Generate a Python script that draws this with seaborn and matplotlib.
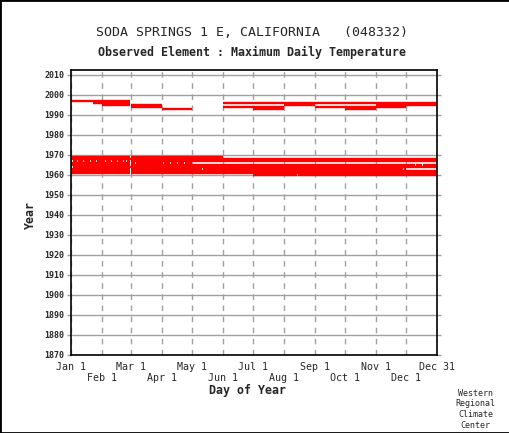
import numpy as np
import pandas as pd
import matplotlib
matplotlib.use('Agg')
import matplotlib.pyplot as plt
from matplotlib.patches import Rectangle
import seaborn as sns

# periods of record (year, first day, last day)
period_year = [1960, 1961, 1962, 1963, 1964, 1965, 1966, 1967, 1968, 1969,
               1993, 1993, 1993, 1994, 1994, 1994, 1995, 1995, 1995,
               1996, 1996, 1997]
period_start = ['07-01', '01-01', '01-01', '01-01', '01-01', '01-01', '01-01', '01-01', '01-01', '01-01',
                '04-01', '07-01', '10-01', '03-01', '06-01', '09-01', '02-01', '08-01', '11-01',
                '01-23', '06-01', '01-01']
period_end = ['12-31', '12-31', '12-31', '11-30', '12-31', '12-31', '04-30', '12-31', '12-31', '05-31',
              '04-30', '07-31', '10-31', '03-31', '07-31', '11-30', '03-31', '08-31', '12-31',
              '02-28', '12-31', '02-28']

# single missing days inside the periods
missing_year = [1960, 1963, 1963, 1964, 1965, 1965,
                1966, 1966, 1966, 1966, 1966,
                1967, 1967, 1967, 1967, 1967, 1967, 1967, 1967, 1967, 1967]
missing_day = ['08-14', '05-11', '11-28', '01-02', '12-10', '12-17',
               '03-05', '04-02', '04-09', '04-16', '04-23',
               '01-02', '01-07', '01-13', '01-20', '01-26', '02-04', '02-10', '02-16', '02-22', '02-25']

year_ticks = list(range(1870, 2011, 10))
major_labels = ['Jan 1', 'Mar 1', 'May 1', 'Jul 1', 'Sep 1', 'Nov 1', 'Dec 31']
minor_labels = ['Feb 1', 'Apr 1', 'Jun 1', 'Aug 1', 'Oct 1', 'Dec 1']

# 366-day calendar (Feb 29 is always a slot)
month_start = [0, 31, 60, 91, 121, 152, 182, 213, 244, 274, 305, 335]


def day_index(md):
    m, d = map(int, md.split('-'))
    return month_start[m - 1] + d


# build the runs of observed days per year
rows = []
seg = 0
for yr in sorted(set(period_year)):
    have = np.zeros(368, dtype=bool)
    for y, s, e in zip(period_year, period_start, period_end):
        if y == yr:
            have[day_index(s):day_index(e) + 1] = True
    leap = (yr % 4 == 0 and yr % 100 != 0) or yr % 400 == 0
    if not leap:
        have[60] = False
    for y, md in zip(missing_year, missing_day):
        if y == yr:
            have[day_index(md)] = False
    idx = np.flatnonzero(have)
    if len(idx) == 0:
        continue
    runs = np.split(idx, np.flatnonzero(np.diff(idx) > 1) + 1)
    for r in runs:
        rows.append({'seg': seg, 'x': r[0] - 1, 'year': yr})
        rows.append({'seg': seg, 'x': r[-1], 'year': yr})
        seg += 1

df = pd.DataFrame(rows)

sns.set_style('white')
plt.rcParams['font.family'] = ['DejaVu Sans Mono', 'DejaVu Sans']
plt.rcParams['lines.solid_capstyle'] = 'butt'

fig = plt.figure(figsize=(5.10, 4.33), dpi=100)
ax = fig.add_axes([71 / 510, 78 / 433, 366 / 510, 285 / 433])

sns.lineplot(data=df, x='x', y='year', units='seg', estimator=None,
             color='#ff0000', linewidth=1.7, legend=False, ax=ax)

ax.set_xlim(0, 366)
ax.set_ylim(1870, 2012.5)

ax.set_yticks(year_ticks)
ax.set_yticklabels([str(y) for y in year_ticks], fontsize=6, fontweight='bold')
ax.set_xticks(month_start[0::2] + [366])
ax.set_xticklabels(major_labels, fontsize=7.2)
ax.set_xticks(month_start[1::2], minor=True)
ax.set_xticklabels(minor_labels, minor=True, fontsize=7.2)

gray = '#a0a0a0'
ax.grid(axis='y', which='major', color=gray, linestyle='-', linewidth=1.0)
ax.grid(axis='x', which='both', color=gray, linestyle=(0, (4, 4)), linewidth=1.0)
ax.set_axisbelow(True)

ax.tick_params(axis='y', which='major', left=True, right=True, length=3,
               width=1.0, color=gray, pad=2)
ax.tick_params(axis='x', which='major', length=0, pad=5)
ax.tick_params(axis='x', which='minor', length=0, pad=13)

for s in ax.spines.values():
    s.set_visible(True)
    s.set_color('black')
    s.set_linewidth(1.2)

ax.set_xlabel('')
ax.set_ylabel('')

fig.text(0.494, 0.924, 'SODA SPRINGS 1 E, CALIFORNIA   (048332)',
         ha='center', va='center', fontsize=9.5)
fig.text(0.494, 0.880, 'Observed Element : Maximum Daily Temperature',
         ha='center', va='center', fontsize=8.4, fontweight='bold')
fig.text(0.485, 0.099, 'Day of Year', ha='center', va='center',
         fontsize=8.4, fontweight='bold')
fig.text(0.059, 0.503, 'Year', ha='center', va='center', rotation=90,
         fontsize=8.4, fontweight='bold')
fig.text(0.933, 0.055, 'Western\nRegional\nClimate\nCenter', ha='center',
         va='center', fontsize=6, linespacing=1.25)

fig.add_artist(Rectangle((0, 0), 1, 1, transform=fig.transFigure,
                         fill=False, edgecolor='black', linewidth=2))

fig.savefig('out.png', dpi=100)
